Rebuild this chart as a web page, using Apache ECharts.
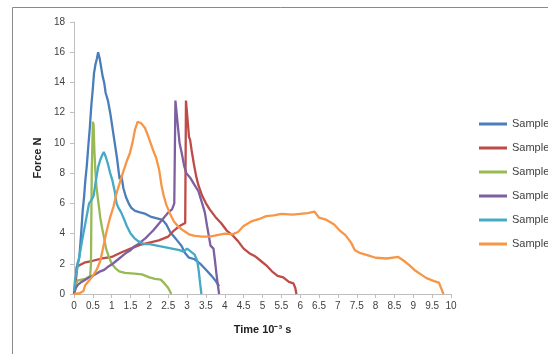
<!DOCTYPE html>
<html><head><meta charset="utf-8">
<script src="https://cdn.jsdelivr.net/npm/echarts@6/dist/echarts.min.js"></script>
<style>html,body{margin:0;padding:0;background:#fff}#c{width:548px;height:354px}</style>
</head><body><div id="c"></div>
<script>
var seriesNames = ["Sample C", "Sample D", "Sample E", "Sample F", "Sample J", "Sample H"];
var xTicks = [0, 10, 0.5];   // min, max, interval (10^-3 s)
var yTicks = [0, 18, 2];     // min, max, interval (N)

var sampleC = [[0,0],[0.05,1.0],[0.09,2.0],[0.14,2.4],[0.19,4.0],[0.23,5.5],[0.27,6.5],[0.3,7.5],[0.34,8.5],[0.38,9.8],[0.42,11],[0.46,12.5],[0.5,13.6],[0.53,14.6],[0.57,15.2],[0.61,15.6],[0.64,16.0],[0.68,15.6],[0.72,15.0],[0.76,14.4],[0.8,14.0],[0.84,13.3],[0.9,12.8],[0.96,12.0],[1.02,11.0],[1.08,10.0],[1.14,9.0],[1.19,8.0],[1.21,7.6],[1.26,7.8],[1.31,7.0],[1.38,6.4],[1.45,6.0],[1.52,5.7],[1.62,5.5],[1.75,5.4],[1.9,5.3],[2.05,5.1],[2.2,5.0],[2.35,4.9],[2.45,4.6],[2.55,4.1],[2.65,3.8],[2.75,3.5],[2.85,3.2],[2.95,2.7],[3.05,2.4],[3.2,2.3],[3.35,2.0],[3.5,1.6],[3.65,1.2],[3.75,0.9],[3.85,0.5]];
var sampleD = [[0.04,0.5],[0.07,1.8],[0.1,1.9],[0.3,2.1],[0.5,2.2],[0.75,2.35],[1.0,2.45],[1.25,2.75],[1.5,3.0],[1.75,3.25],[2.0,3.4],[2.25,3.55],[2.5,3.8],[2.65,4.2],[2.8,4.5],[2.95,4.7],[2.97,12.8],[3.02,12.8],[3.05,10.4],[3.08,10.2],[3.12,9.5],[3.18,8.6],[3.24,7.8],[3.3,7.2],[3.4,6.5],[3.5,6.0],[3.6,5.6],[3.75,5.1],[3.9,4.7],[4.05,4.2],[4.2,3.9],[4.35,3.5],[4.5,3.0],[4.65,2.7],[4.8,2.5],[4.95,2.2],[5.1,1.9],[5.25,1.5],[5.4,1.2],[5.55,1.1],[5.7,0.8],[5.82,0.7],[5.87,0.4],[5.9,0]];
var sampleE = [[0.02,0.5],[0.1,0.9],[0.2,0.95],[0.3,1.0],[0.43,1.2],[0.45,2.0],[0.47,8.0],[0.5,11.4],[0.52,11.2],[0.54,9.5],[0.57,8.0],[0.6,7.0],[0.65,6.0],[0.7,5.0],[0.75,4.3],[0.8,3.7],[0.85,3.0],[0.92,2.5],[1.0,2.0],[1.1,1.7],[1.2,1.5],[1.35,1.4],[1.6,1.35],[1.8,1.3],[2.0,1.1],[2.15,1.0],[2.3,0.95],[2.35,1.0],[2.4,0.7],[2.5,0.4],[2.58,0]];
var sampleF = [[0,0],[0.05,0.4],[0.1,0.6],[0.2,0.8],[0.3,0.95],[0.4,1.1],[0.5,1.2],[0.6,1.35],[0.7,1.5],[0.8,1.6],[0.9,1.8],[1.0,1.95],[1.1,2.15],[1.2,2.35],[1.3,2.55],[1.4,2.75],[1.5,2.9],[1.6,3.15],[1.7,3.3],[1.8,3.5],[1.9,3.7],[2.0,3.95],[2.1,4.2],[2.2,4.5],[2.3,4.8],[2.4,5.1],[2.5,5.4],[2.6,5.6],[2.66,6.0],[2.69,12.8],[2.73,12.8],[2.76,11.0],[2.8,10.0],[2.86,9.3],[2.92,8.5],[2.98,8.0],[3.08,7.7],[3.2,7.2],[3.3,6.8],[3.4,6.0],[3.47,5.4],[3.53,4.5],[3.58,3.8],[3.62,3.2],[3.7,3.0],[3.74,2.2],[3.78,1.3],[3.82,0.5],[3.85,0]];
var sampleJ = [[0,0.2],[0.03,1.0],[0.08,1.6],[0.15,2.6],[0.22,3.6],[0.28,4.4],[0.34,5.2],[0.4,6.0],[0.46,6.2],[0.52,6.5],[0.58,7.5],[0.64,8.4],[0.7,8.9],[0.75,9.2],[0.79,9.4],[0.84,9.1],[0.9,8.6],[0.96,8.0],[1.02,7.5],[1.08,6.8],[1.13,6.0],[1.18,5.7],[1.25,5.4],[1.32,5.0],[1.4,4.5],[1.5,4.0],[1.6,3.7],[1.7,3.5],[1.85,3.3],[2.0,3.3],[2.2,3.2],[2.4,3.1],[2.6,3.0],[2.8,2.9],[2.9,2.8],[3.0,3.0],[3.1,2.8],[3.2,2.6],[3.27,2.2],[3.31,1.5],[3.35,0.6],[3.38,0]];
var sampleH = [[0,0],[0.15,0.05],[0.25,0.2],[0.3,0.6],[0.4,0.9],[0.5,1.2],[0.6,1.6],[0.7,2.2],[0.75,2.8],[0.8,3.4],[0.87,4.2],[0.95,5.0],[1.05,5.8],[1.12,6.6],[1.22,7.4],[1.32,8.2],[1.4,8.8],[1.48,9.3],[1.55,10.0],[1.62,10.9],[1.69,11.4],[1.78,11.3],[1.88,11.0],[1.96,10.5],[2.03,10.0],[2.1,9.5],[2.18,9.0],[2.26,8.2],[2.32,7.2],[2.38,6.5],[2.45,5.9],[2.55,5.3],[2.65,4.8],[2.75,4.5],[2.9,4.2],[3.05,3.95],[3.2,3.85],[3.4,3.8],[3.6,3.8],[3.8,3.9],[4.0,4.0],[4.2,3.95],[4.35,4.1],[4.5,4.5],[4.7,4.8],[4.9,4.95],[5.1,5.15],[5.3,5.2],[5.5,5.3],[5.8,5.25],[6.0,5.3],[6.2,5.35],[6.38,5.45],[6.5,5.05],[6.7,4.9],[6.9,4.6],[7.05,4.2],[7.2,3.9],[7.35,3.4],[7.45,2.9],[7.6,2.7],[7.8,2.55],[8.0,2.4],[8.3,2.35],[8.6,2.45],[8.75,2.2],[8.9,1.9],[9.05,1.55],[9.2,1.3],[9.35,1.05],[9.55,0.85],[9.68,0.75],[9.8,0]];

var seriesData = [sampleC, sampleD, sampleE, sampleF, sampleJ, sampleH];
var colors = ["#4A7EBB", "#BE4B48", "#98B954", "#7D60A0", "#46AAC5", "#F79646"];

var chart = echarts.init(document.getElementById('c'), null, {renderer: 'canvas'});
var font = "Liberation Sans";
chart.setOption({
  animation: false,
  color: colors,
  graphic: [{
    type: 'rect', silent: true,
    shape: {x: 12.5, y: 7.5, width: 600, height: 400},
    style: {fill: 'none', stroke: '#8a8a8a', lineWidth: 1}
  }],
  grid: {left: 74, right: 97, top: 22, bottom: 60, containLabel: false},
  legend: {
    orient: 'vertical', left: 474, top: 112,
    itemWidth: 28, itemHeight: 3, itemGap: 10, icon: 'rect',
    textStyle: {fontFamily: font, fontSize: 11, color: '#404040', lineHeight: 14},
    data: seriesNames
  },
  xAxis: {
    type: 'value', min: xTicks[0], max: xTicks[1], interval: xTicks[2],
    name: 'Time 10\u207B\u00B3 s', nameLocation: 'middle', nameGap: 30,
    nameTextStyle: {fontFamily: font, fontSize: 11, fontWeight: 'bold', color: '#222'},
    axisLine: {show: true, lineStyle: {color: '#bfbfbf'}},
    axisTick: {show: true, length: 4, lineStyle: {color: '#bfbfbf'}},
    axisLabel: {fontFamily: font, fontSize: 10, color: '#404040', margin: 7, showMaxLabel: true, showMinLabel: true, hideOverlap: false},
    splitLine: {show: false}
  },
  yAxis: {
    type: 'value', min: yTicks[0], max: yTicks[1], interval: yTicks[2],
    name: 'Force N', nameLocation: 'middle', nameGap: 31, nameRotate: 90,
    nameTextStyle: {fontFamily: font, fontSize: 11, fontWeight: 'bold', color: '#222'},
    axisLine: {show: true, lineStyle: {color: '#bfbfbf'}},
    axisTick: {show: true, length: 4, lineStyle: {color: '#bfbfbf'}},
    axisLabel: {fontFamily: font, fontSize: 10, color: '#404040', margin: 9},
    splitLine: {show: false}
  },
  series: seriesNames.map(function (n, i) {
    return {
      name: n, type: 'line', data: seriesData[i],
      showSymbol: false, symbol: 'none',
      lineStyle: {width: 2.3, color: colors[i]},
      itemStyle: {color: colors[i]}
    };
  })
});
</script></body></html>
